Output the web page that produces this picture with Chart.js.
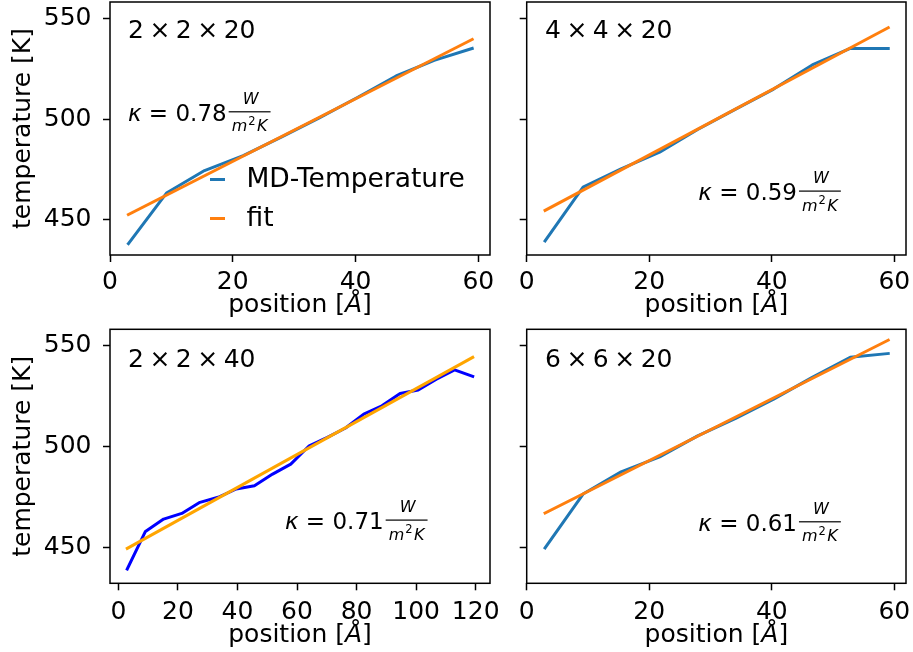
<!DOCTYPE html>
<html lang="en">
<head>
<meta charset="UTF-8">
<title>Temperature profiles</title>
<script src="https://cdn.jsdelivr.net/npm/chart.js"></script>
<style>
  body { margin: 0; background: #ffffff; }
  #wrap { position: relative; width: 913px; height: 652px; }
  #wrap canvas { position: absolute; left: 0; top: 0; }
</style>
</head>
<body>
<div id="wrap">
  <canvas id="c1" width="913" height="652"></canvas>
  <canvas id="c2" width="913" height="652"></canvas>
  <canvas id="c3" width="913" height="652"></canvas>
  <canvas id="c4" width="913" height="652"></canvas>
</div>
<script>
// slab positions [Å]
const posShort = [3, 9.2, 15.4, 21.7, 27.9, 34.1, 40.3, 46.6, 52.8, 59];
const posLong = [3, 9.1, 15.2, 21.3, 27.4, 33.5, 39.6, 45.7, 51.8, 57.9,
                 64.1, 70.2, 76.3, 82.4, 88.5, 94.6, 100.7, 106.8, 112.9, 119];

// MD temperatures [K] and linear fit end values
const temp2x2x20 = [438.1, 463.2, 474.4, 481.8, 491.0, 500.6, 510.7, 521.4, 529.2, 535.1];
const fit2x2x20 = [452.5, 539.6];
const temp4x4x20 = [439.4, 466.1, 475.2, 483.5, 494.8, 504.9, 514.9, 526.9, 535.1, 535.1];
const fit4x4x20 = [454.6, 545.4];
const temp2x2x40 = [439.5, 458.1, 464.2, 467.0, 472.5, 475.0, 479.1, 480.7, 486.5, 491.4,
                    500.5, 504.7, 509.3, 516.2, 520.3, 526.4, 528.1, 533.5, 538.1, 534.9];
const fit2x2x40 = [449.7, 544.3];
const temp6x6x20 = [449.9, 476.6, 487.6, 495.0, 505.4, 514.1, 523.6, 534.4, 544.3, 546.2];
const fit6x6x20 = [467.2, 552.8];

// conductivities
const kappa = ['0.78', '0.59', '0.71', '0.61'];

// tick values
const ticks60 = [0, 20, 40, 60];
const ticks120 = [0, 20, 40, 60, 80, 100, 120];
const ticksT = [450, 500, 550];

const FONT = 'DejaVu Sans';
const W = 913, H = 652;
const X_AXIS_H = 50;

function pts(xs, ys) {
  return ys.map((y, i) => ({ x: xs[i], y: y }));
}
function ends(xs, ys) {
  return [{ x: xs[0], y: ys[0] }, { x: xs[xs.length - 1], y: ys[1] }];
}

function drawSize(ctx, text, x, base) {
  // "2 × 2 × 20" with math-like spacing
  ctx.font = '25px "' + FONT + '"';
  ctx.textAlign = 'left';
  ctx.textBaseline = 'alphabetic';
  let cx = x;
  text.split(' ').forEach(tok => {
    ctx.fillText(tok, cx, base);
    cx += ctx.measureText(tok).width + 5.5;
  });
}

function drawKappa(ctx, value, x, base) {
  ctx.textAlign = 'left';
  ctx.textBaseline = 'alphabetic';
  ctx.font = 'italic 23px "' + FONT + '"';
  ctx.fillText('κ', x, base);
  let cx = x + ctx.measureText('κ').width;
  ctx.font = '23px "' + FONT + '"';
  const main = ' = ' + value;
  ctx.fillText(main, cx, base);
  cx += ctx.measureText(main).width + 2;

  // unit fraction W / (m^2 K)
  const small = 'italic 16px "' + FONT + '"';
  const sup = '11.5px "' + FONT + '"';
  ctx.font = small;
  const wm = ctx.measureText('m').width;
  const wk = ctx.measureText('K').width;
  const wn = ctx.measureText('W').width;
  ctx.font = sup;
  const w2 = ctx.measureText('2').width;
  const den = wm + 1 + w2 + 1.5 + wk;
  const barW = Math.max(den, wn) + 6;
  ctx.fillRect(cx, base - 9.5, barW, 1.2);
  ctx.font = small;
  ctx.fillText('W', cx + (barW - wn) / 2 + 1, base - 16.7);
  let dx = cx + (barW - den) / 2;
  ctx.fillText('m', dx, base + 10.5);
  dx += wm + 1;
  ctx.font = sup;
  ctx.fillText('2', dx, base + 4);
  dx += w2 + 1.5;
  ctx.font = small;
  ctx.fillText('K', dx, base + 10.5);
}

function drawXTitle(ctx, cx, cy) {
  const a = 'position [', b = 'Å', c = ']';
  const norm = '25px "' + FONT + '"', ital = 'italic 25px "' + FONT + '"';
  ctx.textBaseline = 'middle';
  ctx.textAlign = 'left';
  ctx.font = norm;
  const wa = ctx.measureText(a).width, wc = ctx.measureText(c).width;
  ctx.font = ital;
  const wb = ctx.measureText(b).width;
  let x = cx - (wa + wb + wc) / 2;
  ctx.font = norm; ctx.fillText(a, x, cy); x += wa;
  ctx.font = ital; ctx.fillText(b, x, cy); x += wb;
  ctx.font = norm; ctx.fillText(c, x, cy);
}

function drawYTitle(ctx, cx, cy) {
  ctx.save();
  ctx.translate(cx, cy);
  ctx.rotate(-Math.PI / 2);
  ctx.font = '25px "' + FONT + '"';
  ctx.textAlign = 'center';
  ctx.textBaseline = 'middle';
  ctx.fillText('temperature [K]', 0, 0);
  ctx.restore();
}

const panels = [
  { id: 'c1', area: [110, 2, 490, 255], xs: posShort, temp: temp2x2x20, fit: fit2x2x20,
    xMin: 0, xMax: 61.9, xTicks: ticks60, yLabels: true, colors: ['#1f77b4', '#ff7f0e'],
    size: '2 × 2 × 20', sizeAt: [128, 38], kappa: kappa[0], kappaAt: [128, 120.7],
    titleGap: 50.5, tickPad: 5.5, legend: true },
  { id: 'c2', area: [526.7, 2, 906, 255], xs: posShort, temp: temp4x4x20, fit: fit4x4x20,
    xMin: 0, xMax: 61.9, xTicks: ticks60, yLabels: false, colors: ['#1f77b4', '#ff7f0e'],
    size: '4 × 4 × 20', sizeAt: [545, 38], kappa: kappa[1], kappaAt: [698.3, 200],
    titleGap: 50.5, tickPad: 5.5, legend: false },
  { id: 'c3', area: [110, 329.3, 490, 583.3], xs: posLong, temp: temp2x2x40, fit: fit2x2x40,
    xMin: -2.8, xMax: 124.8, xTicks: ticks120, yLabels: true, colors: ['#0000ff', '#ffa500'],
    size: '2 × 2 × 40', sizeAt: [128, 367], kappa: kappa[2], kappaAt: [285, 529],
    titleGap: 52.5, tickPad: 7, legend: false },
  { id: 'c4', area: [526.7, 329.3, 906, 583.3], xs: posShort, temp: temp6x6x20, fit: fit6x6x20,
    xMin: 0, xMax: 61.9, xTicks: ticks60, yLabels: false, colors: ['#1f77b4', '#ff7f0e'],
    size: '6 × 6 × 20', sizeAt: [545, 367], kappa: kappa[3], kappaAt: [698.3, 530.7],
    titleGap: 52.5, tickPad: 7, legend: false }
];

panels.forEach(p => {
  const [l, t, r, b] = p.area;
  // y axis box spans from the canvas edge on the left column
  const yW = p.yLabels ? l : 10;

  const decor = {
    id: 'decor',
    afterDraw(chart) {
      const ctx = chart.ctx;
      const a = chart.chartArea;
      ctx.save();
      // axes frame
      ctx.strokeStyle = '#000';
      ctx.lineWidth = 1.5;
      ctx.strokeRect(a.left, a.top, a.right - a.left, a.bottom - a.top);
      ctx.fillStyle = '#000';
      drawSize(ctx, p.size, p.sizeAt[0], p.sizeAt[1]);
      drawKappa(ctx, p.kappa, p.kappaAt[0], p.kappaAt[1]);
      drawXTitle(ctx, (a.left + a.right) / 2, a.bottom + p.titleGap);
      if (p.yLabels) drawYTitle(ctx, 23, (a.top + a.bottom) / 2);
      if (p.legend) {
        const rows = [['MD-Temperature', p.colors[0], 179.5], ['fit', p.colors[1], 218.5]];
        ctx.lineWidth = 3;
        ctx.lineCap = 'butt';
        ctx.font = '26.5px "' + FONT + '"';
        ctx.textAlign = 'left';
        ctx.textBaseline = 'middle';
        rows.forEach(([label, color, y]) => {
          ctx.strokeStyle = color;
          ctx.beginPath();
          ctx.moveTo(210, y);
          ctx.lineTo(225, y);
          ctx.stroke();
          ctx.fillStyle = '#000';
          ctx.fillText(label, 246.5, y + 0.5);
        });
      }
      ctx.restore();
    }
  };

  const tickFont = { family: FONT, size: 25 };

  new Chart(document.getElementById(p.id), {
    type: 'line',
    data: {
      datasets: [
        { label: 'MD-Temperature', data: pts(p.xs, p.temp), borderColor: p.colors[0],
          borderWidth: 3, pointRadius: 0, tension: 0, order: 2,
          borderJoinStyle: 'round', borderCapStyle: 'square' },
        { label: 'fit', data: ends(p.xs, p.fit), borderColor: p.colors[1],
          borderWidth: 3, pointRadius: 0, tension: 0, order: 1,
          borderCapStyle: 'square' }
      ]
    },
    options: {
      responsive: false,
      animation: false,
      devicePixelRatio: 1,
      layout: { padding: { left: l - yW, top: t, right: W - r, bottom: H - b - X_AXIS_H } },
      plugins: { legend: { display: false }, tooltip: { enabled: false } },
      scales: {
        x: {
          type: 'linear', min: p.xMin, max: p.xMax, bounds: 'data',
          afterBuildTicks: s => { s.ticks = p.xTicks.map(v => ({ value: v })); },
          afterFit: s => { s.height = X_AXIS_H; s.paddingLeft = 0; s.paddingRight = 0; },
          border: { display: false },
          grid: { drawOnChartArea: false, drawTicks: true, tickLength: 7,
                  tickWidth: 1.5, tickColor: '#000' },
          ticks: { color: '#000', font: tickFont, padding: p.tickPad, maxRotation: 0, autoSkip: false }
        },
        y: {
          type: 'linear', min: 432.4, max: 558.2, bounds: 'data',
          afterBuildTicks: s => { s.ticks = ticksT.map(v => ({ value: v })); },
          afterFit: s => { s.width = yW; s.paddingTop = 0; s.paddingBottom = 0; },
          border: { display: false },
          grid: { drawOnChartArea: false, drawTicks: true, tickLength: 7,
                  tickWidth: 1.5, tickColor: '#000' },
          ticks: { display: p.yLabels, color: '#000', font: tickFont, padding: 11.5 }
        }
      }
    },
    plugins: [decor]
  });
});
</script>
</body>
</html>
